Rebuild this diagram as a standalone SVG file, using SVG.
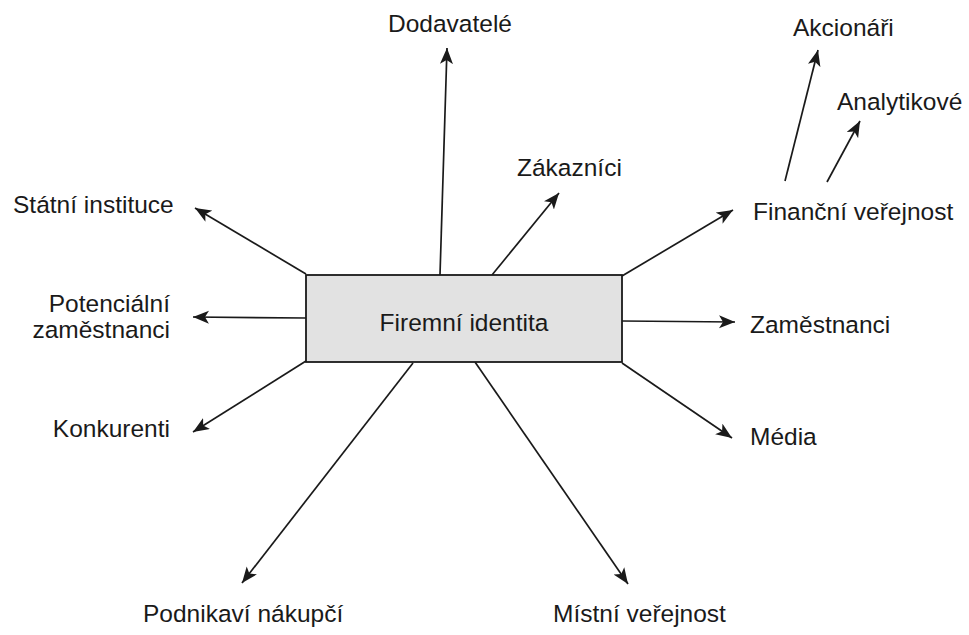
<svg xmlns="http://www.w3.org/2000/svg" width="969" height="635" viewBox="0 0 969 635">
<defs>
<marker id="ah" markerUnits="userSpaceOnUse" markerWidth="18" markerHeight="14" refX="16" refY="6.5" orient="auto">
<path d="M0,0 L16,6.5 L0,13 L4,6.5 Z" fill="#1a1a1a"/>
</marker>
<style>
.t{font-family:"Liberation Sans",Arial,sans-serif;font-size:24.5px;fill:#1a1a1a}
.c{stroke:#1a1a1a;stroke-width:1.7;fill:none;marker-end:url(#ah)}
</style>
</defs>
<rect width="969" height="635" fill="#ffffff"/>
<g id="connectors">
<line class="c" x1="440" y1="275" x2="447" y2="48"/>
<line class="c" x1="492" y1="275" x2="559" y2="193"/>
<line class="c" x1="622" y1="276" x2="733" y2="210"/>
<line class="c" x1="785" y1="181" x2="818" y2="50"/>
<line class="c" x1="827" y1="182" x2="860" y2="121"/>
<line class="c" x1="622" y1="321" x2="735" y2="322"/>
<line class="c" x1="622" y1="363" x2="732" y2="438"/>
<line class="c" x1="306" y1="274" x2="195" y2="208"/>
<line class="c" x1="306" y1="318" x2="193" y2="317"/>
<line class="c" x1="306" y1="361" x2="193" y2="432"/>
<line class="c" x1="413" y1="363" x2="242" y2="583"/>
<line class="c" x1="475" y1="362" x2="628" y2="584"/>
</g>
<g id="firemni-identita">
<rect x="306" y="275" width="316" height="87" fill="#e2e2e2" stroke="#1a1a1a" stroke-width="1.8"/>
<text class="t" x="464" y="331" text-anchor="middle">Firemní identita</text>
</g>
<g id="dodavatele"><text class="t" x="450" y="32" text-anchor="middle">Dodavatelé</text></g>
<g id="zakaznici"><text class="t" x="517" y="176">Zákazníci</text></g>
<g id="akcionari"><text class="t" x="793" y="36">Akcionáři</text></g>
<g id="analytikove"><text class="t" x="837" y="110">Analytikové</text></g>
<g id="financni-verejnost"><text class="t" x="753" y="220">Finanční veřejnost</text></g>
<g id="zamestnanci"><text class="t" x="750" y="333">Zaměstnanci</text></g>
<g id="media"><text class="t" x="750" y="445">Média</text></g>
<g id="statni-instituce"><text class="t" x="13" y="213">Státní instituce</text></g>
<g id="potencialni-zamestnanci"><text class="t" x="170" y="312" text-anchor="end">Potenciální</text><text class="t" x="170" y="338" text-anchor="end">zaměstnanci</text></g>
<g id="konkurenti"><text class="t" x="170" y="437" text-anchor="end">Konkurenti</text></g>
<g id="podnikavi-nakupci"><text class="t" x="143" y="622">Podnikaví nákupčí</text></g>
<g id="mistni-verejnost"><text class="t" x="553" y="622">Místní veřejnost</text></g>
</svg>
